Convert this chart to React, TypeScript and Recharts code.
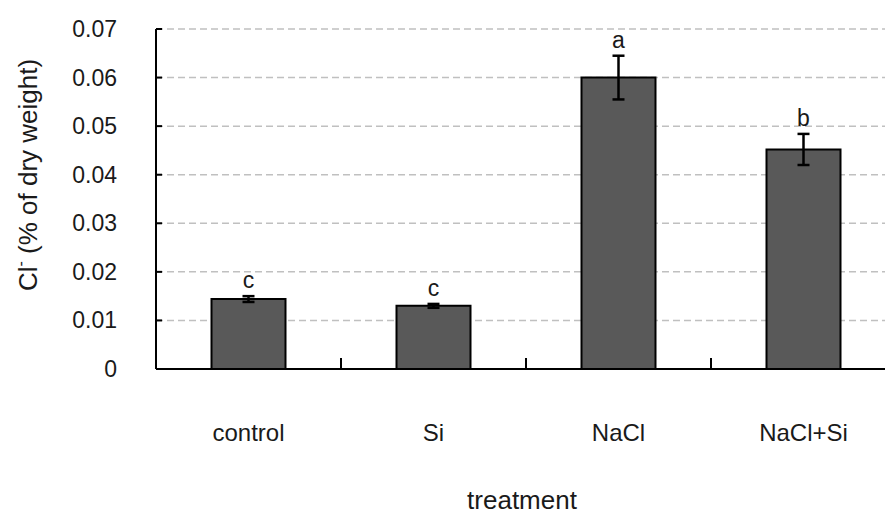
import React from 'react';
import { BarChart, Bar, XAxis, YAxis, CartesianGrid, ErrorBar } from 'recharts';

const categories = ['control', 'Si', 'NaCl', 'NaCl+Si'];
const means = [0.0144, 0.013, 0.06, 0.0452];
const errors = [0.0006, 0.0004, 0.0045, 0.0032];
const letters = ['c', 'c', 'a', 'b'];
const yTicks = [0, 0.01, 0.02, 0.03, 0.04, 0.05, 0.06, 0.07];

const data = categories.map((c, i) => ({ name: c, value: means[i], err: errors[i], letter: letters[i] }));

const FONT = '"Liberation Sans", Arial, sans-serif';
const CHART_W = 920;
const CHART_H = 514;
const MARGIN = { top: 29, right: 24, bottom: 0, left: 0 };
const Y_AXIS_W = 156;
const X_AXIS_H = 145;
const PLOT_W = CHART_W - MARGIN.left - MARGIN.right - Y_AXIS_W;
const HALF_BAND = PLOT_W / categories.length / 2;

const YTick = (props: any) => {
  const { x, y, payload } = props;
  const v = payload.value;
  const label = v === 0 ? '0' : v.toFixed(2);
  return (
    <g>
      <line x1={x} y1={y} x2={x + 6} y2={y} stroke="#000" strokeWidth={2} />
      <text x={x - 39} y={y} dy={8} textAnchor="end" fontFamily={FONT} fontSize={23} fill="#1a1a1a">
        {label}
      </text>
    </g>
  );
};

const XTick = (props: any) => {
  const { x, y, payload } = props;
  return (
    <g>
      <line x1={x + HALF_BAND} y1={y} x2={x + HALF_BAND} y2={y - 11} stroke="#000" strokeWidth={2} />
      <text x={x} y={y + 72} textAnchor="middle" fontFamily={FONT} fontSize={24} fill="#1a1a1a">
        {payload.value}
      </text>
    </g>
  );
};

const LetterLabel = (props: any) => {
  const vb = props.viewBox || {};
  const x = props.x ?? vb.x;
  const y = props.y ?? vb.y;
  const width = props.width ?? vb.width;
  const height = props.height ?? vb.height;
  const index = props.index;
  const v = means[index];
  const e = errors[index];
  const pxPerUnit = height / v;
  const errTop = y - e * pxPerUnit;
  return (
    <text x={x + width / 2} y={errTop - 8} textAnchor="middle" fontFamily={FONT} fontSize={23} fill="#1a1a1a">
      {letters[index]}
    </text>
  );
};

export default function App() {
  return (
    <div style={{ position: 'absolute', left: 0, top: 0, width: 885, height: 514, overflow: 'hidden', background: '#fff' }}>
      <BarChart width={CHART_W} height={CHART_H} data={data} margin={MARGIN} barCategoryGap="30%">
        <CartesianGrid horizontal vertical={false} stroke="#c0c0c0" strokeDasharray="7 4" strokeWidth={1.5} />
        <XAxis
          dataKey="name"
          height={X_AXIS_H}
          tickSize={0}
          tickMargin={0}
          tickLine={false}
          axisLine={{ stroke: '#000', strokeWidth: 2 }}
          tick={<XTick />}
          interval={0}
          label={{
            content: (p: any) => {
              const vb = p.viewBox || {};
              return (
                <text x={vb.x + vb.width / 2 - 4} y={509} textAnchor="middle" fontFamily={FONT} fontSize={26} fill="#1a1a1a">
                  treatment
                </text>
              );
            },
          }}
        />
        <YAxis
          width={Y_AXIS_W}
          domain={[0, 0.07]}
          ticks={yTicks}
          interval={0}
          tickSize={0}
          tickMargin={0}
          tickLine={false}
          axisLine={{ stroke: '#000', strokeWidth: 2 }}
          tick={<YTick />}
          label={{
            content: () => (
              <text
                x={0}
                y={0}
                transform="translate(37, 175) rotate(-90)"
                textAnchor="middle"
                fontFamily={FONT}
                fontSize={26}
                fill="#1a1a1a"
              >
                Cl<tspan fontSize={16} dy={-11}>-</tspan>
                <tspan dy={11}> (% of dry weight)</tspan>
              </text>
            ),
          }}
        />
        <Bar dataKey="value" fill="#595959" stroke="#000" strokeWidth={2} isAnimationActive={false} label={<LetterLabel />}>
          <ErrorBar dataKey="err" width={6} stroke="#000" strokeWidth={2.5} direction="y" />
        </Bar>
      </BarChart>
    </div>
  );
}
